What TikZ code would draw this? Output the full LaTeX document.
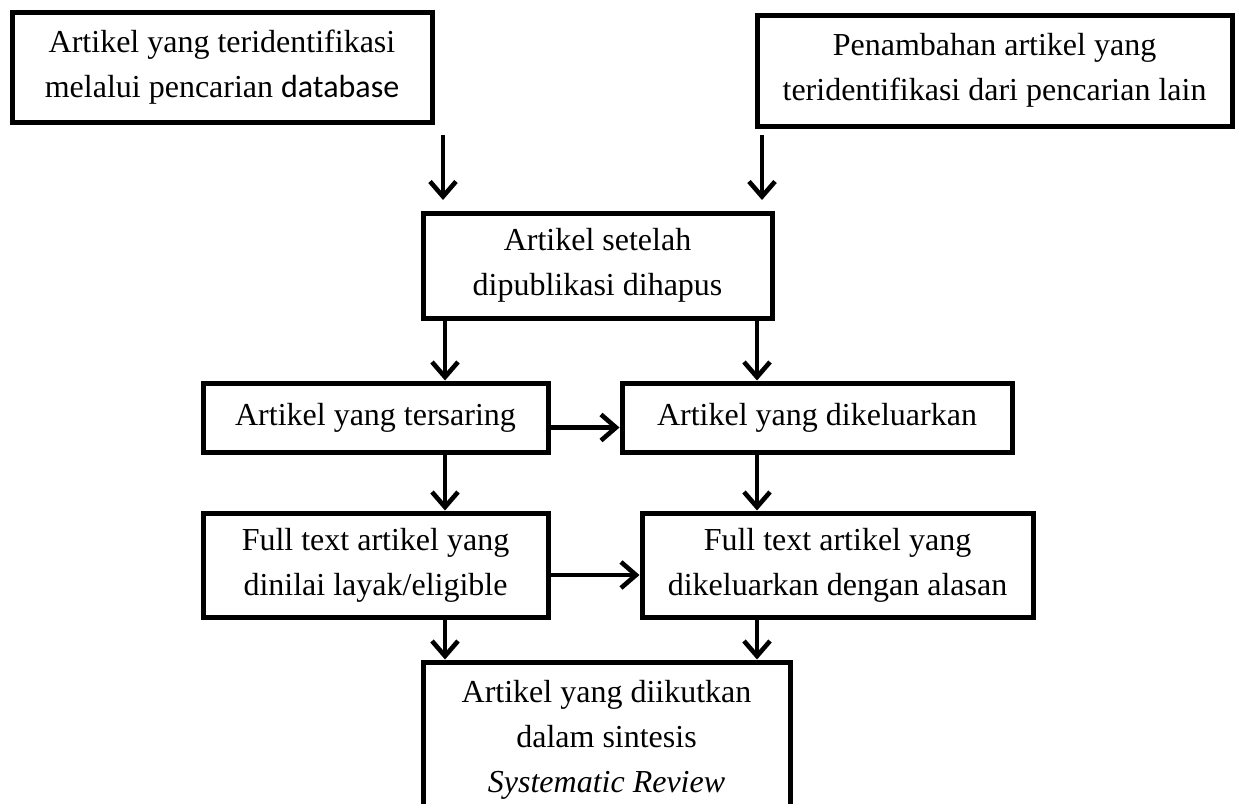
\documentclass[tikz,border=0pt]{standalone}
\usepackage{fontspec}
\setmainfont{Liberation Serif}
\newfontfamily\sansdb{Carlito}
\usetikzlibrary{arrows.meta}

\begin{document}
\begin{tikzpicture}[
    x=1pt, y=-1pt,
    box/.style={draw, line width=2.5pt, align=center, inner sep=0pt,
                font=\fontsize{16}{22.5}\selectfont},
    flow/.style={line width=2.3pt,
                 -{Straight Barb[length=7.5pt, width=13pt]}}
]

% ---------- page ----------
\useasboundingbox (0,0) rectangle (620,401.5);
\clip (0,0) rectangle (620,401.5);

% ---------- sources ----------
\node[box, minimum width=210pt, minimum height=55pt] (srcdb) at (111,33.5)
    {Artikel yang teridentifikasi\\melalui pencarian {\sansdb database}};
\node[box, minimum width=237.5pt, minimum height=55.5pt] (srcother) at (497.25,35.25)
    {Penambahan artikel yang\\teridentifikasi dari pencarian lain};

% ---------- screening ----------
\node[box, minimum width=174.5pt, minimum height=52.5pt] (dedup) at (298.75,132.75)
    {Artikel setelah\\dipublikasi dihapus};
\node[box, minimum width=172.5pt, minimum height=34.5pt] (screened) at (187.75,208.75)
    {Artikel yang tersaring};
\node[box, minimum width=195pt, minimum height=34.5pt] (excluded) at (408.5,208.75)
    {Artikel yang dikeluarkan};

% ---------- eligibility ----------
\node[box, minimum width=172.5pt, minimum height=52pt] (fulltext) at (187.75,282.5)
    {Full text artikel yang\\dinilai layak/eligible};
\node[box, minimum width=195.5pt, minimum height=52pt] (ftexcl) at (418.75,282.5)
    {Full text artikel yang\\dikeluarkan dengan alasan};

% ---------- included ----------
\node[box, minimum width=183.5pt, minimum height=78pt] (included) at (303.25,370)
    {Artikel yang diikutkan\\dalam sintesis\\\textit{Systematic Review}};

% ---------- columns for the vertical arrows ----------
\coordinate (colL) at (222.5,0);
\coordinate (colR) at (378.5,0);
\coordinate (inL) at (221.5,67.5);
\coordinate (inLend) at (221.5,100);
\coordinate (inR) at (381,67.5);
\coordinate (inRend) at (381,100);

% ---------- arrows ----------
\draw[flow] (inL) -- (inLend);
\draw[flow] (inR) -- (inRend);
\draw[flow] (dedup.south -| colL) -- (screened.north -| colL);
\draw[flow] (dedup.south -| colR) -- (excluded.north -| colR);
\draw[flow] ([yshift=-5pt]screened.east) -- ([yshift=-5pt]excluded.west);
\draw[flow] (screened.south -| colL) -- (fulltext.north -| colL);
\draw[flow] (excluded.south -| colR) -- (ftexcl.north -| colR);
\draw[flow] ([yshift=-5pt]fulltext.east) -- ([yshift=-5pt]ftexcl.west);
\draw[flow] (fulltext.south -| colL) -- (included.north -| colL);
\draw[flow] (ftexcl.south -| colR) -- (included.north -| colR);

\end{tikzpicture}
\end{document}
